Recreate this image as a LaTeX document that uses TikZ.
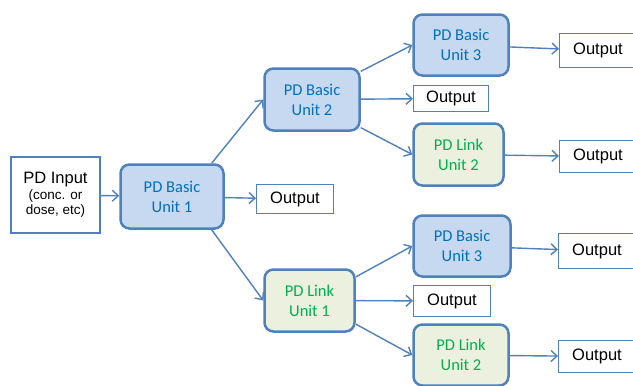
\documentclass[tikz,border=0pt]{standalone}
\usepackage{fontspec}
\setmainfont{Liberation Sans}
\newfontfamily\unitfont{Carlito}
\usetikzlibrary{arrows.meta}
\definecolor{myLineBlue}{RGB}{79,129,189}
\definecolor{myBasicFill}{RGB}{198,217,240}
\definecolor{myLinkFill}{RGB}{235,241,222}
\definecolor{myTextBlue}{RGB}{0,112,192}
\definecolor{myTextGreen}{RGB}{0,176,80}

\begin{document}
\begin{tikzpicture}[x=1pt, y=-1pt,
	unitbox/.style={draw=myLineBlue, line width=2.5pt, rounded corners=9pt, align=center,
		inner sep=0pt, minimum width=95pt, minimum height=62pt,
		font=\unitfont\fontsize{16.5}{20}\selectfont},
	basicunit/.style={unitbox, fill=myBasicFill, text=myTextBlue},
	linkunit/.style={unitbox, fill=myLinkFill, text=myTextGreen},
	outbox/.style={draw=myLineBlue, line width=1pt, fill=white, inner sep=0pt,
		minimum width=77pt, minimum height=31pt, font=\fontsize{16.5}{18}\selectfont},
	inbox/.style={draw=myLineBlue, line width=2.2pt, fill=white, align=center, inner sep=0pt,
		minimum width=89pt, minimum height=76pt, font=\fontsize{13.5}{15.5}\selectfont},
	conn/.style={->, draw=myLineBlue, line width=1.4pt},
	>={Straight Barb[length=6pt,width=11pt]}
	]
	\useasboundingbox[fill=white] (0,0) rectangle (633,386);

	\draw (55.5,195) node[inbox] (input) {{\fontsize{16.5}{17}\selectfont PD Input}\\
		(conc. or\\ dose, etc)};
	\draw (172,196.5) node[basicunit, minimum width=103pt, minimum height=64pt] (basic1) {PD Basic\\Unit 1};
	\draw (295,199) node[outbox, minimum height=29pt] (out1) {Output};

	% upper branch
	\draw (312,99.5) node[basicunit] (basic2) {PD Basic\\Unit 2};
	\draw (461,45) node[basicunit, minimum height=61pt] (basic3a) {PD Basic\\Unit 3};
	\draw (451,98.5) node[outbox, minimum width=75pt, minimum height=26pt] (out2) {Output};
	\draw (458.5,154.5) node[linkunit, minimum width=90pt] (link2a) {PD Link\\Unit 2};
	\draw (598,50.5) node[outbox, minimum height=34pt] (out3) {Output};
	\draw (598,156.5) node[outbox, minimum height=32pt] (out4) {Output};

	% lower branch
	\draw (309.5,300.5) node[linkunit, minimum width=90pt] (link1) {PD Link\\Unit 1};
	\draw (462,246) node[basicunit, minimum width=97pt, minimum height=61pt] (basic3b) {PD Basic\\Unit 3};
	\draw (452,301) node[outbox] (out6) {Output};
	\draw (461,355) node[linkunit, minimum height=61pt] (link2b) {PD Link\\Unit 2};
	\draw (597,251) node[outbox, minimum height=35pt] (out5) {Output};
	\draw (597,356.5) node[outbox, minimum height=32pt] (out7) {Output};

	% connectors
	\draw[conn] (input) -- (basic1);
	\draw[conn] (basic1.40) -- (basic2.west);
	\draw[conn] (basic1) -- (out1);
	\draw[conn] (basic1.320) -- (link1.west);
	\draw[conn] (basic2.30) -- (basic3a.west);
	\draw[conn] (basic2) -- (out2);
	\draw[conn] (basic2.330) -- (link2a.west);
	\draw[conn] (basic3a) -- (out3);
	\draw[conn] (link2a) -- (out4);
	\draw[conn] (link1.27) -- (basic3b.west);
	\draw[conn] (link1) -- (out6);
	\draw[conn] (link1.333) -- (link2b.west);
	\draw[conn] (basic3b) -- (out5);
	\draw[conn] (link2b) -- (out7);
\end{tikzpicture}
\end{document}
